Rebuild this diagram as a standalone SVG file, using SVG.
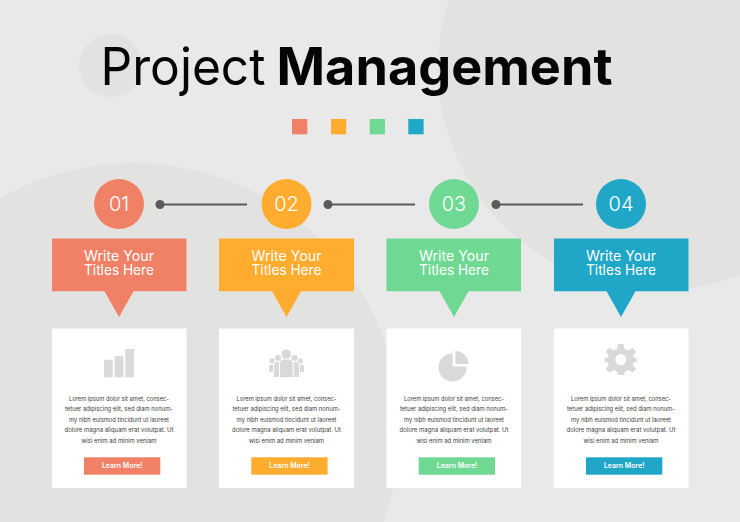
<svg xmlns="http://www.w3.org/2000/svg" width="740" height="522" viewBox="0 0 740 522">
<style>
text{font-family:"Inter","Noto Sans","Liberation Sans",sans-serif}
.blob{fill:#e2e2e1}
.title{font-size:52px;fill:#050505;letter-spacing:0}
.num{font-size:20px;fill:#fff;text-anchor:middle;font-weight:300}
.head{font-size:14.2px;fill:#fff;text-anchor:middle;font-weight:400}
.card{fill:#fff}
.icon{fill:#d9d9d9}
.body{font-size:6.2px;fill:#3a3a3a;text-anchor:middle}
.btn{font-size:7.2px;fill:#fff;text-anchor:middle;font-weight:600}
.c1{fill:#f08167}.c2{fill:#ffac2f}.c3{fill:#6fd994}.c4{fill:#20a6c7}
.link{stroke:#5a5a5a;stroke-width:2;fill:none}
.dot{fill:#5a5a5a}
</style>
<defs>
<g id="lorem">
<text class="body" x="0" y="0" textLength="100" lengthAdjust="spacingAndGlyphs">Lorem ipsum dolor sit amet, consec-</text>
<text class="body" x="0" y="10.4" textLength="108" lengthAdjust="spacingAndGlyphs">tetuer adipiscing elit, sed diam nonum-</text>
<text class="body" x="0" y="20.8" textLength="100" lengthAdjust="spacingAndGlyphs">my nibh euismod tincidunt ut laoreet</text>
<text class="body" x="0" y="31.2" textLength="109" lengthAdjust="spacingAndGlyphs">dolore magna aliquam erat volutpat. Ut</text>
<text class="body" x="0" y="41.6" textLength="75" lengthAdjust="spacingAndGlyphs">wisi enim ad minim veniam</text>
</g>
<g id="heading">
<text class="head" x="0" y="261" textLength="70" lengthAdjust="spacingAndGlyphs">Write Your</text>
<text class="head" x="0" y="275" textLength="70" lengthAdjust="spacingAndGlyphs">Titles Here</text>
</g>
</defs>
<rect width="740" height="522" fill="#e9e9e9"/>
<circle class="blob" cx="660" cy="68" r="222"/>
<circle class="blob" cx="133" cy="430" r="267"/>
<circle class="blob" cx="110.500" cy="65.700" r="31.500"/>
<g id="title">
<text class="title" x="100.500" y="85" textLength="165" lengthAdjust="spacingAndGlyphs" font-weight="400">Project</text>
<text class="title" x="276.500" y="85" textLength="336" lengthAdjust="spacingAndGlyphs" font-weight="700">Management</text>
</g>
<g id="swatches">
<rect class="c1" x="292" y="119" width="15.300" height="15.300"/>
<rect class="c2" x="331" y="119" width="15.300" height="15.300"/>
<rect class="c3" x="369.700" y="119" width="15.300" height="15.300"/>
<rect class="c4" x="408.300" y="119" width="15.300" height="15.300"/>
</g>
<g id="connectors">
<circle class="dot" cx="160" cy="204.500" r="4.500"/><path class="link" d="M160 204.500H247"/>
<circle class="dot" cx="328" cy="204.500" r="4.500"/><path class="link" d="M328 204.500H415"/>
<circle class="dot" cx="496" cy="204.500" r="4.500"/><path class="link" d="M496 204.500H583"/>
</g>
<g id="node-01">
<circle class="c1" cx="119" cy="204" r="25"/>
<text class="num" x="119" y="210.500">01</text>
<path class="c1" d="M52 238.500H186.500V291.300H133.500L119 317L104.500 291.300H52Z"/>
<use href="#heading" x="119"/>
<rect class="card" x="52" y="328.500" width="134.500" height="159.500"/>
<g class="icon"><rect x="104" y="359.700" width="8.700" height="17.600"/><rect x="114.700" y="356" width="8.700" height="21.300"/><rect x="125.300" y="349" width="8.700" height="28.300"/></g>
<use href="#lorem" x="119" y="401"/>
<rect class="c1" x="84" y="457.300" width="76.300" height="17.400"/>
<text class="btn" x="122.200" y="468.300" textLength="40.600" lengthAdjust="spacingAndGlyphs">Learn More!</text>
</g>
<g id="node-02">
<circle class="c2" cx="286.500" cy="204" r="25"/>
<text class="num" x="286.500" y="210.500">02</text>
<path class="c2" d="M219 238.500H354V291.300H301L286.500 317L272 291.300H219Z"/>
<use href="#heading" x="286.500"/>
<rect class="card" x="219" y="328.500" width="135" height="159.500"/>
<g class="icon"><circle cx="286.300" cy="354" r="4.800"/><path d="M280 364Q280 359.500 284 359.500H288.700Q292.700 359.500 292.700 364V377.300H280Z"/><circle cx="278" cy="358" r="3"/><circle cx="294.500" cy="358" r="3"/><path d="M274 377V366Q274 362 277 362H279V377ZM293.700 362H296Q299 362 299 366V377H293.700Z"/><circle cx="272" cy="360.700" r="2.500"/><circle cx="300.500" cy="360.700" r="2.500"/><path d="M269 372V367Q269 364.500 271 364.500H273V372ZM300 364.500H302Q304 364.500 304 367V372H300Z"/></g>
<use href="#lorem" x="286.500" y="401"/>
<rect class="c2" x="251.300" y="457.300" width="76.300" height="17.400"/>
<text class="btn" x="289.500" y="468.300" textLength="40.600" lengthAdjust="spacingAndGlyphs">Learn More!</text>
</g>
<g id="node-03">
<circle class="c3" cx="454" cy="204" r="25"/>
<text class="num" x="454" y="210.500">03</text>
<path class="c3" d="M386.500 238.500H521V291.300H468.500L454 317L439.500 291.300H386.500Z"/>
<use href="#heading" x="454"/>
<rect class="card" x="386.500" y="328.500" width="134.500" height="159.500"/>
<g class="icon"><path d="M452.700 353.500V366.500H466.500A14 14 0 1 1 452.700 353.500Z"/><path d="M455.300 351A13.500 13.500 0 0 1 468.700 364H455.300Z"/></g>
<use href="#lorem" x="454" y="401"/>
<rect class="c3" x="418.700" y="457.300" width="76.300" height="17.400"/>
<text class="btn" x="457" y="468.300" textLength="40.600" lengthAdjust="spacingAndGlyphs">Learn More!</text>
</g>
<g id="node-04">
<circle class="c4" cx="621" cy="204" r="25"/>
<text class="num" x="621" y="210.500">04</text>
<path class="c4" d="M554 238.500H688.500V291.300H635.500L621 317L606.500 291.300H554Z"/>
<use href="#heading" x="621"/>
<rect class="card" x="554" y="328.500" width="134.500" height="159.500"/>
<path class="icon" fill-rule="evenodd" d="M618 344H623.500L624.500 349L628.500 350.500L632.500 347.700L636 351.500L633.200 355.500L634.500 358L637 358.500V361.500L634 362.500L633 365L636 369L632.500 372.500L628.500 370L625 371.500L623.800 375H617.800L616.800 371.500L613.500 370L609.500 372.500L605.700 369L608.500 365L607.500 362.500L604.500 361.500V358L607.500 357.500L608.700 355.500L605.700 351.500L609.500 347.700L613.500 350.500L617 349ZM626.300 359.500A5.500 5.500 0 1 0 615.300 359.500A5.500 5.500 0 1 0 626.300 359.500Z"/>
<use href="#lorem" x="621" y="401"/>
<rect class="c4" x="586" y="457.300" width="76.300" height="17.400"/>
<text class="btn" x="624.200" y="468.300" textLength="40.600" lengthAdjust="spacingAndGlyphs">Learn More!</text>
</g>
</svg>
